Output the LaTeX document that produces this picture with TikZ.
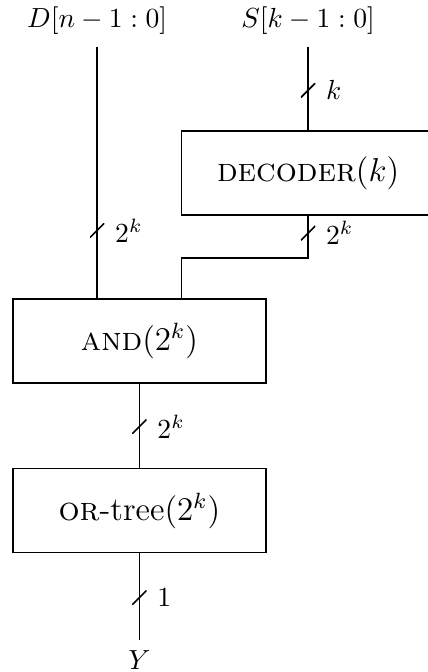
\documentclass[tikz,border=0pt]{standalone}
\usepackage{amsmath}
\usetikzlibrary{positioning}

\begin{document}
\begin{tikzpicture}[
  x=1pt,y=1pt,
  blk/.style={draw,line width=0.6pt,minimum width=91.7pt,minimum height=30.4pt,inner sep=0pt,font=\large},
  wire/.style={line width=0.6pt},
  busmark/.style={inner sep=0pt,minimum size=5.2pt,
    path picture={\draw[line width=0.6pt] (path picture bounding box.south west) -- (path picture bounding box.north east);}},
  buslbl/.style={label={[label distance=0pt]right:#1}}]
  \useasboundingbox (0,0) rectangle (155,-243.4);
  \node[blk] (dec) at (111.6,-62.7) {\textsc{decoder}$(k)$};
  \node[blk] (and) at (50.5,-123.5) {\textsc{and}$(2^k)$};
  \node[blk,below=30.4pt of and] (or) {\textsc{or}-tree$(2^k)$};
  \node[anchor=south,inner sep=4.2pt] (dIn) at (35.2,-17) {$D[n-1:0]$};
  \node[anchor=south,inner sep=4.2pt] (sIn) at (111.6,-17) {$S[k-1:0]$};
  \node[below=31.5pt of or,inner sep=3.4pt] (y) {$Y$};
  % buses
  \draw[wire] (dIn.south) -- node[busmark,pos=0.73,buslbl=$2^k$]{} (dIn.south |- and.north);
  \draw[wire] (sIn.south) -- node[busmark,pos=0.52,buslbl=$k$]{} (dec.north);
  \draw[wire] (dec.south) -- node[busmark,pos=0.41,buslbl=$2^k$]{} ++(0,-15.2) -| ([xshift=15.3pt]and.north);
  \draw[wire] (and.south) -- node[busmark,pos=0.51,buslbl=$2^k$]{} (or.north);
  \draw[wire] (or.south) -- node[busmark,pos=0.51,buslbl=$1$]{} (y.north);
\end{tikzpicture}
\end{document}
